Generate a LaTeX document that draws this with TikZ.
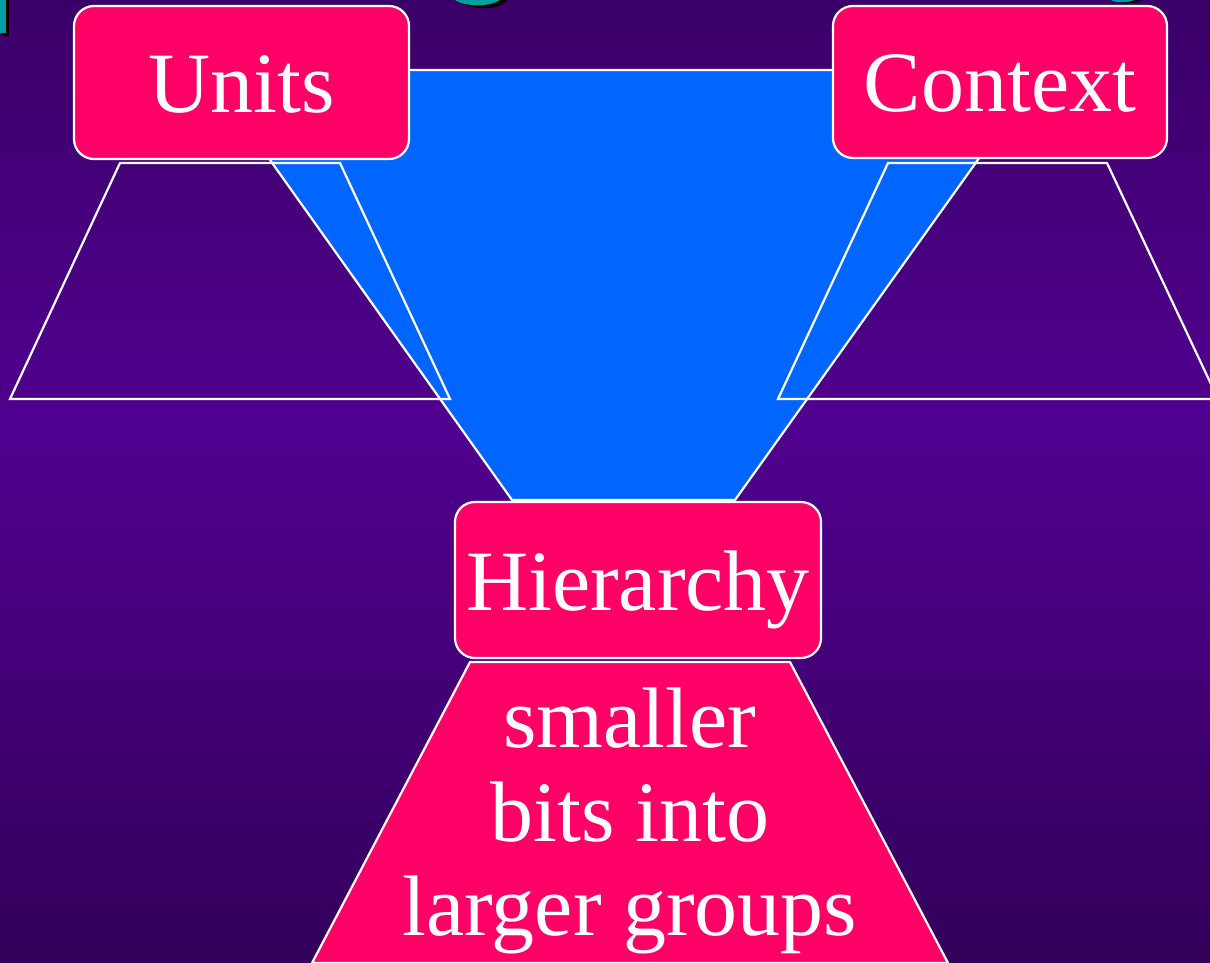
\documentclass[tikz,border=0pt]{standalone}
\usepackage{fontspec}
\setmainfont{Liberation Serif}
\definecolor{bgtop}{HTML}{3B0068}
\definecolor{bgmid}{HTML}{50008F}
\definecolor{bgbot}{HTML}{33005A}
\definecolor{pinkbox}{HTML}{FF0066}
\definecolor{funnelblue}{HTML}{0066FF}
\definecolor{teal}{HTML}{00A0A0}
\tikzset{
  labelbox/.style={draw=white, line width=2.2pt, fill=pinkbox, rounded corners=20pt,
    text=white, font=\fontsize{86}{94}\selectfont, text height=60pt, text depth=0pt,
    inner sep=0pt},
  outline/.style={draw=white, line width=2.2pt},
}
\begin{document}
\begin{tikzpicture}[x=1pt,y=-1pt]
\useasboundingbox (0,0) rectangle (1210,963);
% background gradient (brightest around y=430)
\shade[top color=bgtop, bottom color=bgmid] (0,0) rectangle (1210,430);
\shade[top color=bgmid, bottom color=bgbot] (0,430) rectangle (1210,963);
% cropped title fragments at the top edge
\fill[black] (2,0) rectangle (9,36);
\fill[teal] (0,0) rectangle (6,33);
\fill[black] (458,0) .. controls (470,11) and (500,11) .. (507,0) -- cycle;
\fill[teal] (455,0) .. controls (465,7) and (490,7) .. (500,0) -- cycle;
\fill[black] (1114,0) .. controls (1120,4) and (1135,4) .. (1142,0) -- cycle;
\fill[teal] (1111,0) .. controls (1116,3) and (1128,3) .. (1134,0) -- cycle;
% funnel
\draw[outline, fill=funnelblue] (206,70) -- (1042,70) -- (735,500) -- (512,500) -- cycle;
% side trapezoids (outlines only)
\draw[outline, line join=miter] (120,163) -- (340,163) -- (450,399) -- (10,399) -- cycle;
\draw[outline, line join=miter] (888,163) -- (1107,163) -- (1218,399) -- (778,399) -- cycle;
% bottom trapezoid with text
\draw[outline, fill=pinkbox] (470,662) -- (790,662) -- (948,963) -- (312,963) -- cycle;
\node (bits) [text=white, align=center, font=\fontsize{86}{94}\selectfont, anchor=base, inner sep=0pt]
  at (630,935) {smaller\\bits into\\larger groups};
% boxes
\node (units) [labelbox, minimum width=335pt, minimum height=153pt] at (241.5,82.5) {Units};
\node (context) [labelbox, minimum width=334pt, minimum height=152pt] at (1000,82) {Context};
\node (hier) [labelbox, minimum width=366pt, minimum height=156pt] at (638,580) {Hierarchy};
\end{tikzpicture}
\end{document}
